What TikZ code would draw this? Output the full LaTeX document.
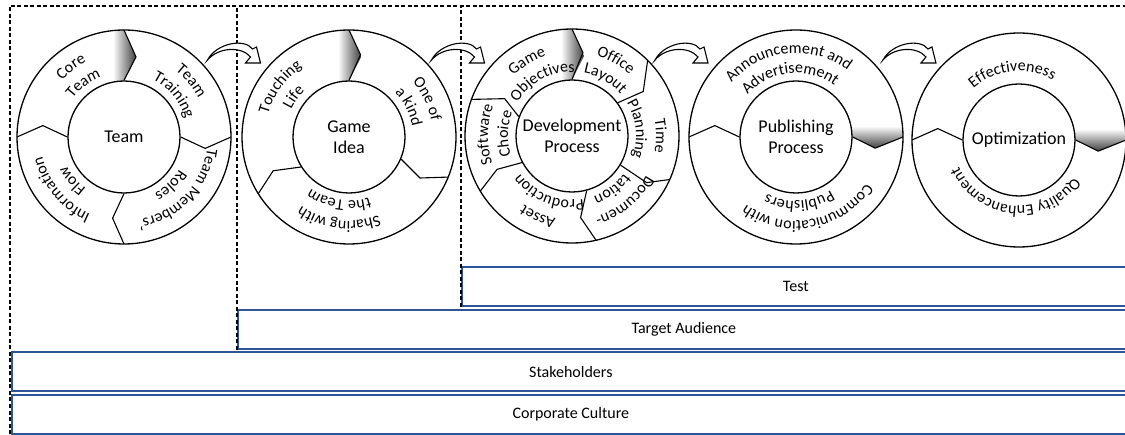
\documentclass[tikz,border=0pt]{standalone}
\usepackage{fontspec}
\setmainfont{Carlito}
\usepackage{tikz}
\usetikzlibrary{calc,decorations.text}

\definecolor{barblue}{RGB}{47,85,151}
\newcommand\ringfont{\fontsize{16}{19}\selectfont}
\newcommand\hubfont{\fontsize{18}{21}\selectfont}

\tikzset{
  hub/.style={circle,draw,fill=white,line width=1.3pt,minimum size=112pt,inner sep=0pt,align=center,font=\hubfont},
  rim/.style={line width=1.3pt},
  seam/.style={line width=1.1pt},
  band/.style={draw=barblue,line width=1.7pt,anchor=south west,minimum height=39pt,inner sep=0pt,font=\fontsize{16}{19}\selectfont},
  dashframe/.style={line width=1.2pt,dash pattern=on 4pt off 2.5pt},
  hoparrow/.style={line width=1.1pt,fill=white,line join=miter},
}

\begin{document}
\begin{tikzpicture}[x=1pt,y=1pt]
\useasboundingbox (0,0) rectangle (1125,434);
\coordinate (top) at (0,428);
\coordinate (arrowrow) at (0,374);

% layers under the wheels
\node[band,minimum width=668pt] (test) at (461,127) {Test};
\node[band,minimum width=892pt] (aud) at (237,84) {Target Audience};
\node[band,minimum width=1118pt] (stake) at (11,42) {Stakeholders};
\node[band,minimum width=1118pt] (culture) at (11,-1) {Corporate Culture};

\draw[dashframe] (10,0) |- (1126,428);
\draw[dashframe] (aud.south west) -- (aud.south west |- top);
\draw[dashframe] (test.south west) -- (test.south west |- top);

% grey start marks
\foreach \x/\y in {124/297,349/297,572/298}
  \shade[shift={(\x,\y)},left color=white,right color=black!75] (-11,55) -- (0,56) -- (12,80) -- (0,107) -- (-11,106.4) -- cycle;
\foreach \x/\y in {796/297,1019/294}
  \shade[shift={(\x,\y)},top color=white,bottom color=black!75] (55,11) -- (56,0) -- (79,-11) -- (107,0) -- (106.4,11) -- cycle;

\foreach \n/\x/\y/\lbl in {team/124/297/Team, idea/349/297/{Game\\Idea}, dev/572/298/{Development\\Process}, pub/796/297/{Publishing\\Process}, opt/1019/294/Optimization}{
  \draw[rim] (\x,\y) circle[radius=107];
  \node[hub] (\n) at (\x,\y) {\lbl};
}

\foreach \n/\a/\k/\r/\b in {team/90/81.5/81/90, team/0/352/82/0, team/270/262/82/270, team/180/172/82/180,
    idea/90/82/83/90, idea/337/330/82/338, idea/212/204/83/212,
    dev/90/82.5/84/90, dev/36/32/84/45, dev/329/328/88/336, dev/285/276/82/283, dev/208/204/82/211, dev/160/151/77/160,
    pub/0/352/80/0, pub/180/172/82/180, opt/0/352/80/0, opt/180/172/82/180}
  \draw[seam] (\n.\a) -- ($(\n)+(\k:\r)$) -- ($(\n)+(\b:107)$);

\foreach \n/\c/\r/\s in {team/127/84/Core, team/127/64/Team, team/40/84/Team, team/40/64/Training,
    team/-44/84/{Team Members'}, team/-46/64/Roles, team/-140/84/Information, team/-140/64/Flow,
    idea/144/84/Touching, idea/144/64/Life, idea/26/84/{One of}, idea/27/64/{a kind},
    idea/-97/84/{Sharing with}, idea/-99/64/{the Team},
    dev/121/84/Game, dev/118/64/Objectives, dev/60/84/Office, dev/60/64/Layout,
    dev/0/84/Time, dev/6/64/Planning, dev/-51/84/Documen-, dev/-53/64/tation,
    dev/-113/84/Asset, dev/-112/64/Production, dev/179/84/Software, dev/178/64/Choice,
    pub/96/84/{Announcement and}, pub/96/64/Advertisement, pub/-80/84/{Communication with}, pub/-87/64/Publishers,
    opt/96/69/Effectiveness, opt/-95/66/{Quality Enhancement}}
  \path[decorate,decoration={text along path,text align=center,text/.expanded={|\noexpand\ringfont|\s}}]
    ($(\n)+(\c+80:\r)$) arc[start angle=\c+80,end angle=\c-80,radius=\r];

\foreach \a/\b/\f in {team/idea/.5, idea/dev/.5, dev/pub/.5, pub/opt/.52}{
  \coordinate (m) at ($(\a)!\f!(\b)$);
  \draw[hoparrow,shift={(m |- arrowrow)}] (-29,0) .. controls (-20,17) and (8,22) .. (16,11)
    -- (20,13) -- (24,-3) -- (9,-3) -- (14,3) .. controls (5,14) and (-18,13) .. (-29,0) -- cycle;
}
\end{tikzpicture}
\end{document}
